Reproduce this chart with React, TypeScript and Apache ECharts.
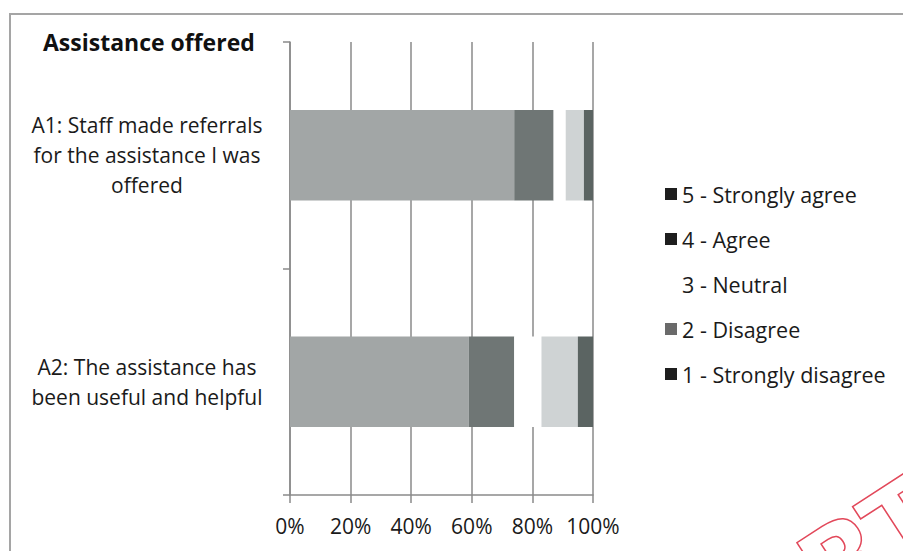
import React, { useEffect, useRef } from "react";
import * as echarts from "echarts";

// Survey statements (top to bottom)
const categories = [
  "A1: Staff made referrals\nfor the assistance I was\noffered",
  "A2: The assistance has\nbeen useful and helpful",
];

// Share of responses per rating, in percent
const stronglyAgree = [74, 59];
const agree = [13, 15];
const neutral = [4, 9];
const disagree = [6, 12];
const stronglyDisagree = [3, 5];

const seriesNames = [
  "5 - Strongly agree",
  "4 - Agree",
  "3 - Neutral",
  "2 - Disagree",
  "1 - Strongly disagree",
];

const xTicks = [0, 20, 40, 60, 80, 100];

const FONT = "'Open Sans', 'Noto Sans', sans-serif";

export default function App() {
  const ref = useRef<HTMLDivElement>(null);

  useEffect(() => {
    if (!ref.current) return;
    const chart = echarts.init(ref.current, null, { renderer: "svg" });

    const values = [stronglyAgree, agree, neutral, disagree, stronglyDisagree];
    const barColors = ["#a2a6a6", "#6f7675", "#ffffff", "#cfd3d4", "#5b6462"];
    const legendColors = ["#1e1e1e", "#1e1e1e", "rgba(0,0,0,0)", "#6a6a6a", "#1e1e1e"];

    chart.setOption({
      animation: false,
      backgroundColor: "#ffffff",
      textStyle: { fontFamily: FONT },
      grid: { left: 290, right: 310, top: 42, bottom: 56, containLabel: false },
      xAxis: {
        type: "value",
        min: xTicks[0],
        max: xTicks[xTicks.length - 1],
        interval: 20,
        axisLine: { show: true, lineStyle: { color: "#8a8a8a", width: 1.5 } },
        axisTick: { show: true, length: 8, lineStyle: { color: "#8a8a8a", width: 1.5 } },
        splitLine: { show: true, lineStyle: { color: "#8a8a8a", width: 1.5 } },
        axisLabel: {
          formatter: "{value}%",
          color: "#1a1a1a",
          fontSize: 21,
          fontFamily: FONT,
          margin: 20,
        },
      },
      yAxis: {
        type: "category",
        data: categories,
        inverse: true,
        axisLine: { show: true, lineStyle: { color: "#8a8a8a", width: 1.5 } },
        axisTick: { show: true, length: 7, lineStyle: { color: "#8a8a8a", width: 1.5 } },
        axisLabel: {
          align: "center",
          margin: 143,
          lineHeight: 30,
          fontSize: 21,
          color: "#1a1a1a",
          fontFamily: FONT,
        },
      },
      legend: {
        orient: "vertical",
        left: 660,
        top: 178,
        itemWidth: 12,
        itemHeight: 12,
        itemGap: 23,
        textStyle: { fontSize: 21.5, color: "#1a1a1a", fontFamily: FONT },
        data: seriesNames.map((name, i) => ({
          name,
          icon: "rect",
          itemStyle: { color: legendColors[i], borderWidth: 0 },
        })),
      },
      series: seriesNames.map((name, i) => ({
        name,
        type: "bar",
        stack: "total",
        barWidth: "40%",
        data: values[i],
        itemStyle: { color: barColors[i] },
      })),
      graphic: [
        {
          type: "rect",
          shape: { x: 10, y: 14, width: 1000, height: 700 },
          style: { fill: "none", stroke: "#a5a5a5", lineWidth: 2 },
          silent: true,
        },
        {
          type: "text",
          x: 43,
          y: 42,
          style: {
            text: "Assistance offered",
            font: `bold 23px ${FONT}`,
            fill: "#111",
            textAlign: "left",
            textVerticalAlign: "middle",
          },
        },
        {
          type: "text",
          x: 905,
          y: 458,
          rotation: (33 * Math.PI) / 180,
          style: {
            text: "REPORT",
            font: `bold 104px 'DejaVu Sans', sans-serif`,
            fill: "none",
            stroke: "#e2485a",
            lineWidth: 1.5,
            textAlign: "right",
            textVerticalAlign: "top",
          },
          silent: true,
        },
      ],
    });

    return () => chart.dispose();
  }, []);

  return (
    <div
      ref={ref}
      style={{ position: "fixed", left: 0, top: 0, width: 903, height: 551 }}
    />
  );
}
